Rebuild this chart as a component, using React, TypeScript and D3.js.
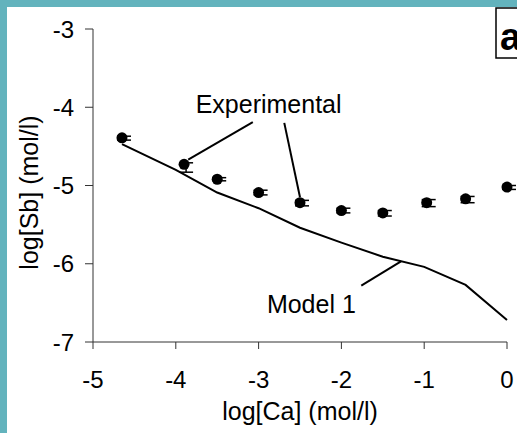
import React from "react";
import * as d3 from "d3";

const expX = [-4.65, -3.9, -3.5, -3.0, -2.5, -2.0, -1.5, -0.97, -0.5, 0.0];
const expY = [-4.39, -4.73, -4.92, -5.09, -5.22, -5.32, -5.35, -5.22, -5.17, -5.02];
const expErrUp = [0.02, 0.02, 0.02, 0.03, 0.03, 0.03, 0.03, 0.04, 0.03, 0.02];
const expErrDown = [0.03, 0.1, 0.02, 0.03, 0.04, 0.03, 0.04, 0.05, 0.05, 0.03];

const modelX = [-4.65, -4.0, -3.5, -3.0, -2.5, -2.0, -1.5, -1.0, -0.5, 0.0];
const modelY = [-4.47, -4.8, -5.09, -5.29, -5.54, -5.73, -5.91, -6.04, -6.27, -6.72];

const xTicks = [-5, -4, -3, -2, -1, 0];
const yTicks = [-3, -4, -5, -6, -7];

const W = 517;
const H = 433;
const TEAL = "#63b3bd";
const FONT = "'Liberation Sans', Arial, sans-serif";

export default function App() {
  const x = d3.scaleLinear().domain([-5, 0]).range([93, 507]);
  const y = d3.scaleLinear().domain([-7, -3]).range([342, 29]);

  const line = d3
    .line<number>()
    .x((_, i) => x(modelX[i]))
    .y((d) => y(d));

  return (
    <svg
      width={W}
      height={H}
      style={{ position: "absolute", left: 0, top: 0, display: "block" }}
      fontFamily={FONT}
    >
      <rect x={0} y={0} width={W} height={H} fill="#fff" />
      <rect x={0} y={0} width={W} height={7} fill={TEAL} />
      <rect x={0} y={0} width={7} height={H} fill={TEAL} />

      {/* axes */}
      <line x1={x(-5)} x2={x(-5)} y1={y(-3)} y2={y(-7)} stroke="#333" strokeWidth={1} />
      <line x1={x(-5)} x2={x(0)} y1={y(-7)} y2={y(-7)} stroke="#333" strokeWidth={1} />
      {yTicks.map((t) => (
        <g key={"y" + t}>
          <line x1={x(-5) - 8} x2={x(-5)} y1={y(t)} y2={y(t)} stroke="#333" />
          <text
            x={74}
            y={y(t)}
            dy="0.36em"
            textAnchor="end"
            fontSize={24}
            fill="#000"
          >
            {t}
          </text>
        </g>
      ))}
      {xTicks.map((t) => (
        <g key={"x" + t}>
          <line x1={x(t)} x2={x(t)} y1={y(-7)} y2={y(-7) + 7} stroke="#333" />
          <text x={x(t)} y={388} textAnchor="middle" fontSize={24} fill="#000">
            {t}
          </text>
        </g>
      ))}

      <text x={x(-2.5)} y={420} textAnchor="middle" fontSize={25} fill="#000">
        log[Ca] (mol/l)
      </text>
      <text
        transform={`translate(38, ${y(-5.09)}) rotate(-90)`}
        textAnchor="middle"
        fontSize={25}
        fill="#000"
      >
        log[Sb] (mol/l)
      </text>

      {/* model line */}
      <path d={line(modelY) || ""} fill="none" stroke="#000" strokeWidth={2} />

      {/* experimental points */}
      {expX.map((vx, i) => {
        const cx = x(vx);
        const cy = y(expY[i]);
        const e1 = y(expY[i] + expErrUp[i]);
        const e2 = y(expY[i] - expErrDown[i]);
        return (
          <g key={"p" + i}>
            <line x1={cx + 2} x2={cx + 2} y1={e1} y2={e2} stroke="#000" strokeWidth={1.5} />
            <line x1={cx - 5} x2={cx + 9} y1={e1} y2={e1} stroke="#000" strokeWidth={1.5} />
            <line x1={cx - 5} x2={cx + 9} y1={e2} y2={e2} stroke="#000" strokeWidth={1.5} />
            <circle cx={cx} cy={cy} r={5.5} fill="#000" />
          </g>
        );
      })}

      {/* annotations */}
      <text x={x(-3.76)} y={y(-4.07)} fontSize={25} fill="#000">
        Experimental
      </text>
      <line x1={x(-3.07)} y1={y(-4.19)} x2={x(-3.85)} y2={y(-4.67)} stroke="#000" strokeWidth={2} />
      <line x1={x(-2.69)} y1={y(-4.2)} x2={x(-2.5)} y2={y(-5.15)} stroke="#000" strokeWidth={2} />

      <text x={x(-2.9)} y={y(-6.63)} fontSize={25} fill="#000">
        Model 1
      </text>
      <line x1={x(-1.76)} y1={y(-6.28)} x2={x(-1.28)} y2={y(-5.97)} stroke="#000" strokeWidth={2} />

      {/* panel label */}
      <rect x={496} y={8} width={40} height={50} fill="#fff" stroke="#000" strokeWidth={1.5} />
      <text x={500} y={50} fontSize={38} fontWeight="bold" fill="#000">
        a
      </text>
    </svg>
  );
}
